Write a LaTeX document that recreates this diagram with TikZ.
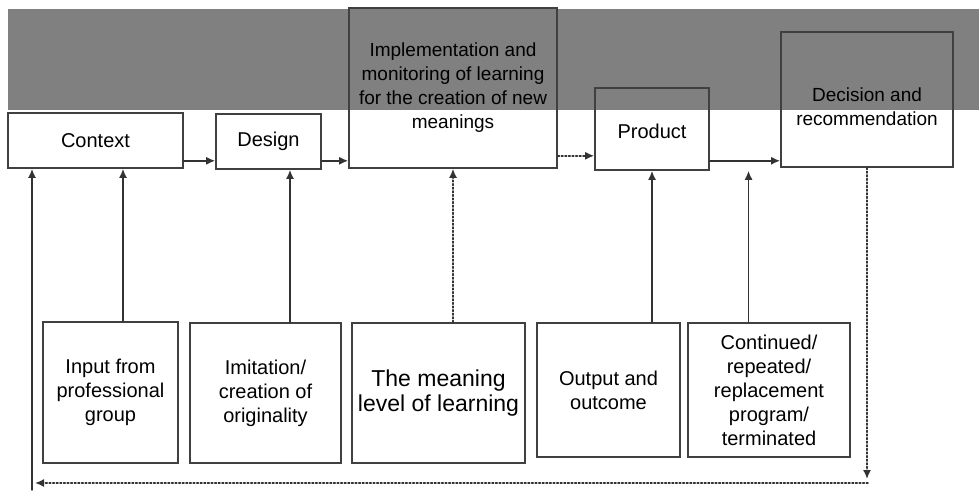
\documentclass[tikz,border=0pt]{standalone}
\usepackage{fontspec}
\setmainfont{Liberation Sans}
\usetikzlibrary{arrows.meta}
\usetikzlibrary{calc}

\begin{document}
\begin{tikzpicture}[x=0.5pt, y=-0.5pt, line cap=round,
    box/.style={draw=black!75, line width=0.8pt, inner sep=0pt, align=center,
        font=\fontsize{10}{12}\selectfont},
    link/.style={line width=0.8pt, black!80, -{Latex[length=4.5pt, width=4pt]}},
    ]
    \useasboundingbox (0,0) rectangle (979,498);
    \fill[black!50] (8,9) rectangle (979,110);

    \node[box, minimum width=87.5pt, minimum height=27.5pt] (ctx) at (95.5,140.5) {Context};
    \node[box, minimum width=52.5pt, minimum height=27.5pt] (design) at (268.5,141.5) {Design};
    \node[box, minimum width=104pt, minimum height=80pt, font=\fontsize{9.5}{12}\selectfont] (impl) at (453,88)
        {Implementation and\\monitoring of learning\\for the creation of new\\meanings};
    \node[box, minimum width=57pt, minimum height=41pt, text height=10pt] (prod) at (652,129) {Product};
    \node[box, minimum width=86pt, minimum height=67.5pt, font=\fontsize{9.5}{12}\selectfont] (dec) at (867,99.5)
        {\rule{0pt}{14pt}Decision and\\recommendation};

    \node[box, minimum width=67.5pt, minimum height=70.5pt] (input) at (110.5,392.5)
        {Input from\\professional\\group};
    \node[box, minimum width=75.5pt, minimum height=70pt] (imit) at (265.5,393)
        {Imitation/\\creation of\\originality};
    \node[box, minimum width=86.5pt, minimum height=70pt, font=\fontsize{11.5}{12.5}\selectfont] (meaning) at (438.5,393)
        {The meaning\\level of learning};
    \node[box, minimum width=71.5pt, minimum height=67pt] (output) at (608.5,390)
        {Output and\\outcome};
    \node[box, minimum width=81pt, minimum height=67pt] (cont) at (769,390)
        {Continued/\\repeated/\\replacement\\program/\\terminated};

    \draw[link] ([yshift=4pt]ctx.south east) -- ([yshift=4pt]ctx.south east -| design.west);
    \draw[link] ([yshift=4.5pt]design.south east) -- ([yshift=4.5pt]design.south east -| impl.west);
    \draw[link, densely dotted] ([yshift=6.5pt]impl.south east) -- ([yshift=6.5pt]impl.south east -| prod.west);
    \draw[link, line width=1.3pt] ([yshift=5pt]prod.south east) -- coordinate[pos=0.55] (pd)
        ([yshift=5pt]prod.south east -| dec.west);

    \draw[link] ([xshift=6.25pt]input.north) -- ([xshift=6.25pt]input.north |- ctx.south);
    \draw[link] ([xshift=12.25pt]imit.north) -- ([xshift=12.25pt]imit.north |- design.south);
    \draw[link, densely dotted] (meaning.north -| impl.south) -- (impl.south);
    \draw[link] (output.north -| prod.south) -- (prod.south);
    \draw[link, shorten >=5pt] (cont.north -| pd) -- (pd);

    \coordinate (fbr) at (868,483);
    \coordinate (fbl) at (32,483);
    \draw[link, densely dotted, shorten >=2pt] (dec.south) -- (dec.south |- fbr);
    \draw[link, densely dotted, shorten >=1.5pt] (fbr) -- (fbl);
    \draw[link] ([yshift=-3.5pt]fbl) -- (fbl |- ctx.south);
\end{tikzpicture}
\end{document}
